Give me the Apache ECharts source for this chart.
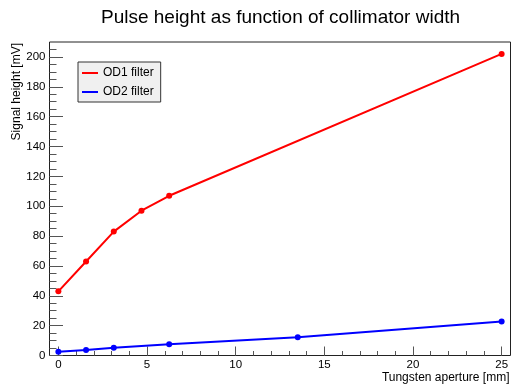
<!DOCTYPE html>
<html>
<head>
<meta charset="utf-8">
<script src="https://cdn.jsdelivr.net/npm/echarts@6/dist/echarts.min.js"></script>
<style>
html,body{margin:0;padding:0;background:#fff;}
#chart{width:512px;height:385px;}
</style>
</head>
<body>
<div id="chart"></div>
<script>
// ---- data ----
const od1X = [0, 1.5625, 3.125, 4.6875, 6.25, 25];
const od1Y = [43, 63, 83, 97, 107, 202];
const od2X = [0, 1.5625, 3.125, 6.25, 13.5, 25];
const od2Y = [2.5, 3.7, 5.2, 7.6, 12.3, 22.8];
const seriesNames = ['OD1 filter', 'OD2 filter'];
const xMajorTicks = [0, 5, 10, 15, 20, 25];
const xMinorTicks = [0,1,2,3,4,5,6,7,8,9,10,11,12,13,14,15,16,17,18,19,20,21,22,23,24,25];
const yMajorTicks = [0, 20, 40, 60, 80, 100, 120, 140, 160, 180, 200];
const yMinorTicks = [0,5,10,15,20,25,30,35,40,45,50,55,60,65,70,75,80,85,90,95,100,105,110,115,120,125,130,135,140,145,150,155,160,165,170,175,180,185,190,195,200,205];

const FONT = 'Liberation Sans, Arial, Helvetica, sans-serif';
const pairs = (xs, ys) => xs.map((x, i) => [x, ys[i]]);

const chart = echarts.init(document.getElementById('chart'), null, {renderer: 'canvas'});
const tickLine = {color: '#555', width: 1};

chart.setOption({
  animation: false,
  backgroundColor: '#fff',
  title: {
    text: 'Pulse height as function of collimator width',
    left: 280.5,
    textAlign: 'center',
    top: 8,
    padding: 0,
    textStyle: {fontFamily: FONT, fontSize: 19, fontWeight: 'normal', color: '#000'}
  },
  legend: {
    orient: 'vertical',
    left: 78,
    top: 62,
    icon: 'rect',
    itemWidth: 16,
    itemHeight: 2,
    itemGap: 5,
    padding: [4, 7, 3, 4],
    backgroundColor: '#f0f0f0',
    borderColor: '#333',
    borderWidth: 1,
    textStyle: {fontFamily: FONT, fontSize: 12, color: '#000', lineHeight: 14},
    data: seriesNames
  },
  grid: {
    left: 49.5, right: 1.5, top: 42, bottom: 29.5,
    show: true, borderColor: '#222', borderWidth: 1, backgroundColor: '#fff',
    containLabel: false,
    outerBoundsMode: 'none'
  },
  xAxis: [
    {
      type: 'value', min: -0.5, max: 25.5, position: 'bottom',
      axisLine: {show: false, onZero: false},
      axisTick: {show: true, inside: true, length: 9, lineStyle: tickLine, customValues: xMajorTicks},
      axisLabel: {show: true, customValues: xMajorTicks, fontFamily: FONT, fontSize: 11.5, color: '#000', margin: 3},
      splitLine: {show: false},
      name: 'Tungsten aperture [mm]',
      nameLocation: 'end',
      nameGap: -1,
      nameMoveOverlap: false,
      nameTextStyle: {fontFamily: FONT, fontSize: 12, color: '#000', align: 'right', verticalAlign: 'top', padding: [16, 0, 0, 0]}
    },
    {
      type: 'value', min: -0.5, max: 25.5, position: 'bottom',
      axisLine: {show: false, onZero: false},
      axisTick: {show: true, inside: true, length: 4.5, lineStyle: tickLine, customValues: xMinorTicks},
      axisLabel: {show: false},
      splitLine: {show: false}
    }
  ],
  yAxis: [
    {
      type: 'value', min: 0, max: 210, position: 'left',
      axisLine: {show: false, onZero: false},
      axisTick: {show: true, inside: true, length: 13.5, lineStyle: tickLine, customValues: yMajorTicks},
      axisLabel: {show: true, customValues: yMajorTicks, fontFamily: FONT, fontSize: 11.5, color: '#000', margin: 4},
      splitLine: {show: false},
      name: 'Signal height [mV]',
      nameLocation: 'end',
      nameRotate: 90,
      nameGap: -1,
      nameMoveOverlap: false,
      nameTextStyle: {fontFamily: FONT, fontSize: 12, color: '#000', align: 'right', verticalAlign: 'bottom', padding: [0, 0, 27, 0]}
    },
    {
      type: 'value', min: 0, max: 210, position: 'left',
      axisLine: {show: false, onZero: false},
      axisTick: {show: true, inside: true, length: 7, lineStyle: tickLine, customValues: yMinorTicks},
      axisLabel: {show: false},
      splitLine: {show: false}
    }
  ],
  series: [
    {
      name: seriesNames[0], type: 'line', xAxisIndex: 0, yAxisIndex: 0,
      data: pairs(od1X, od1Y),
      symbol: 'circle', symbolSize: 6, showSymbol: true,
      itemStyle: {color: '#ff0000'},
      lineStyle: {color: '#ff0000', width: 2}
    },
    {
      name: seriesNames[1], type: 'line', xAxisIndex: 0, yAxisIndex: 0,
      data: pairs(od2X, od2Y),
      symbol: 'circle', symbolSize: 6, showSymbol: true,
      itemStyle: {color: '#0000ff'},
      lineStyle: {color: '#0000ff', width: 2}
    }
  ]
});
</script>
</body>
</html>
